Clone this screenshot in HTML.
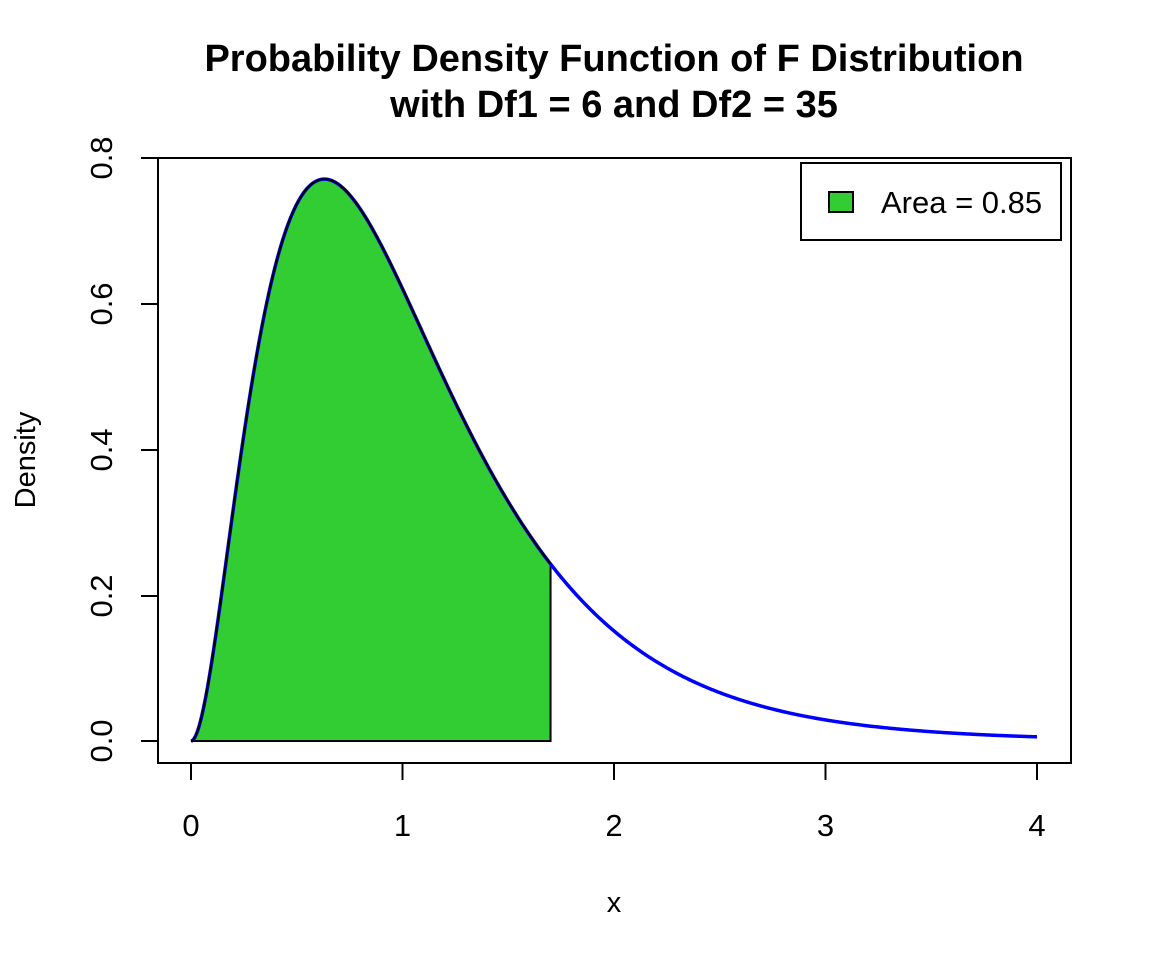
<!DOCTYPE html>
<html><head><meta charset="utf-8">
<style>
html,body{margin:0;padding:0;background:#fff;}
svg{display:block;font-family:"Liberation Sans",Arial,sans-serif;}
</style></head>
<body>
<svg id="s" width="1152" height="960" viewBox="0 0 1152 960" xmlns="http://www.w3.org/2000/svg">
<rect width="1152" height="960" fill="#fff"/>
<text x="614" y="71" font-size="38" font-weight="bold" text-anchor="middle">Probability Density Function of F Distribution</text>
<text x="614" y="117" font-size="38" font-weight="bold" text-anchor="middle">with Df1 = 6 and Df2 = 35</text>
<path id="fill" fill="#32CD32" stroke="#000" stroke-width="2"/>
<path id="curve" fill="none" stroke="#0000FF" stroke-width="3.5"/>
<path id="outline" fill="none" stroke="#000" stroke-width="2"/>
<rect x="158" y="158" width="913" height="605" fill="none" stroke="#000" stroke-width="2"/>
<g stroke="#000" stroke-width="2">
<line x1="191" y1="763" x2="1037" y2="763"/>
<line x1="191" y1="763" x2="191" y2="780"/>
<line x1="402.5" y1="763" x2="402.5" y2="780"/>
<line x1="614" y1="763" x2="614" y2="780"/>
<line x1="825.5" y1="763" x2="825.5" y2="780"/>
<line x1="1037" y1="763" x2="1037" y2="780"/>
<line x1="158" y1="158" x2="158" y2="741"/>
<line x1="141" y1="741" x2="158" y2="741"/>
<line x1="141" y1="596" x2="158" y2="596"/>
<line x1="141" y1="450" x2="158" y2="450"/>
<line x1="141" y1="304" x2="158" y2="304"/>
<line x1="141" y1="158" x2="158" y2="158"/>
</g>
<g font-size="31" text-anchor="middle">
<text x="191" y="836">0</text>
<text x="402.5" y="836">1</text>
<text x="614" y="836">2</text>
<text x="825.5" y="836">3</text>
<text x="1037" y="836">4</text>
<text transform="translate(112,741) rotate(-90)">0.0</text>
<text transform="translate(112,596) rotate(-90)">0.2</text>
<text transform="translate(112,450) rotate(-90)">0.4</text>
<text transform="translate(112,304) rotate(-90)">0.6</text>
<text transform="translate(112,158) rotate(-90)">0.8</text>
<text x="614" y="912" font-size="29">x</text>
<text transform="translate(35,460) rotate(-90)" font-size="29">Density</text>
</g>
<rect x="801" y="163" width="260" height="77" fill="#fff" stroke="#000" stroke-width="2"/>
<rect x="829" y="192" width="24" height="20" fill="#32CD32" stroke="#000" stroke-width="2"/>
<text x="881" y="213" font-size="31">Area = 0.85</text>
</svg>
<script>
(function(){
var B=2/(19.5*18.5*17.5);
function f(x){ if(x<=0) return 0;
 var d1=6,d2=35;
 var l=0.5*(d1*Math.log(d1*x)+d2*Math.log(d2)-(d1+d2)*Math.log(d1*x+d2));
 return Math.exp(l)/(x*B);}
function X(x){return 191+x*211.5;}
function Y(y){return 741-y*728.75;}
var c="",i,x;
for(i=0;i<=800;i++){x=4*i/800;c+=(i?"L":"M")+X(x).toFixed(2)+","+Y(f(x)).toFixed(2);}
document.getElementById("curve").setAttribute("d",c);
var p="",o="";
for(i=0;i<=400;i++){x=1.7*i/400;var s=X(x).toFixed(2)+","+Y(f(x)).toFixed(2);p+=(i?"L":"M")+s;o+=(i?"L":"M")+s;}
p+="L"+X(1.7)+","+Y(0)+"L"+X(0)+","+Y(0)+"Z";
document.getElementById("fill").setAttribute("d",p);
document.getElementById("outline").setAttribute("d",o);
})();
</script>
</body></html>
